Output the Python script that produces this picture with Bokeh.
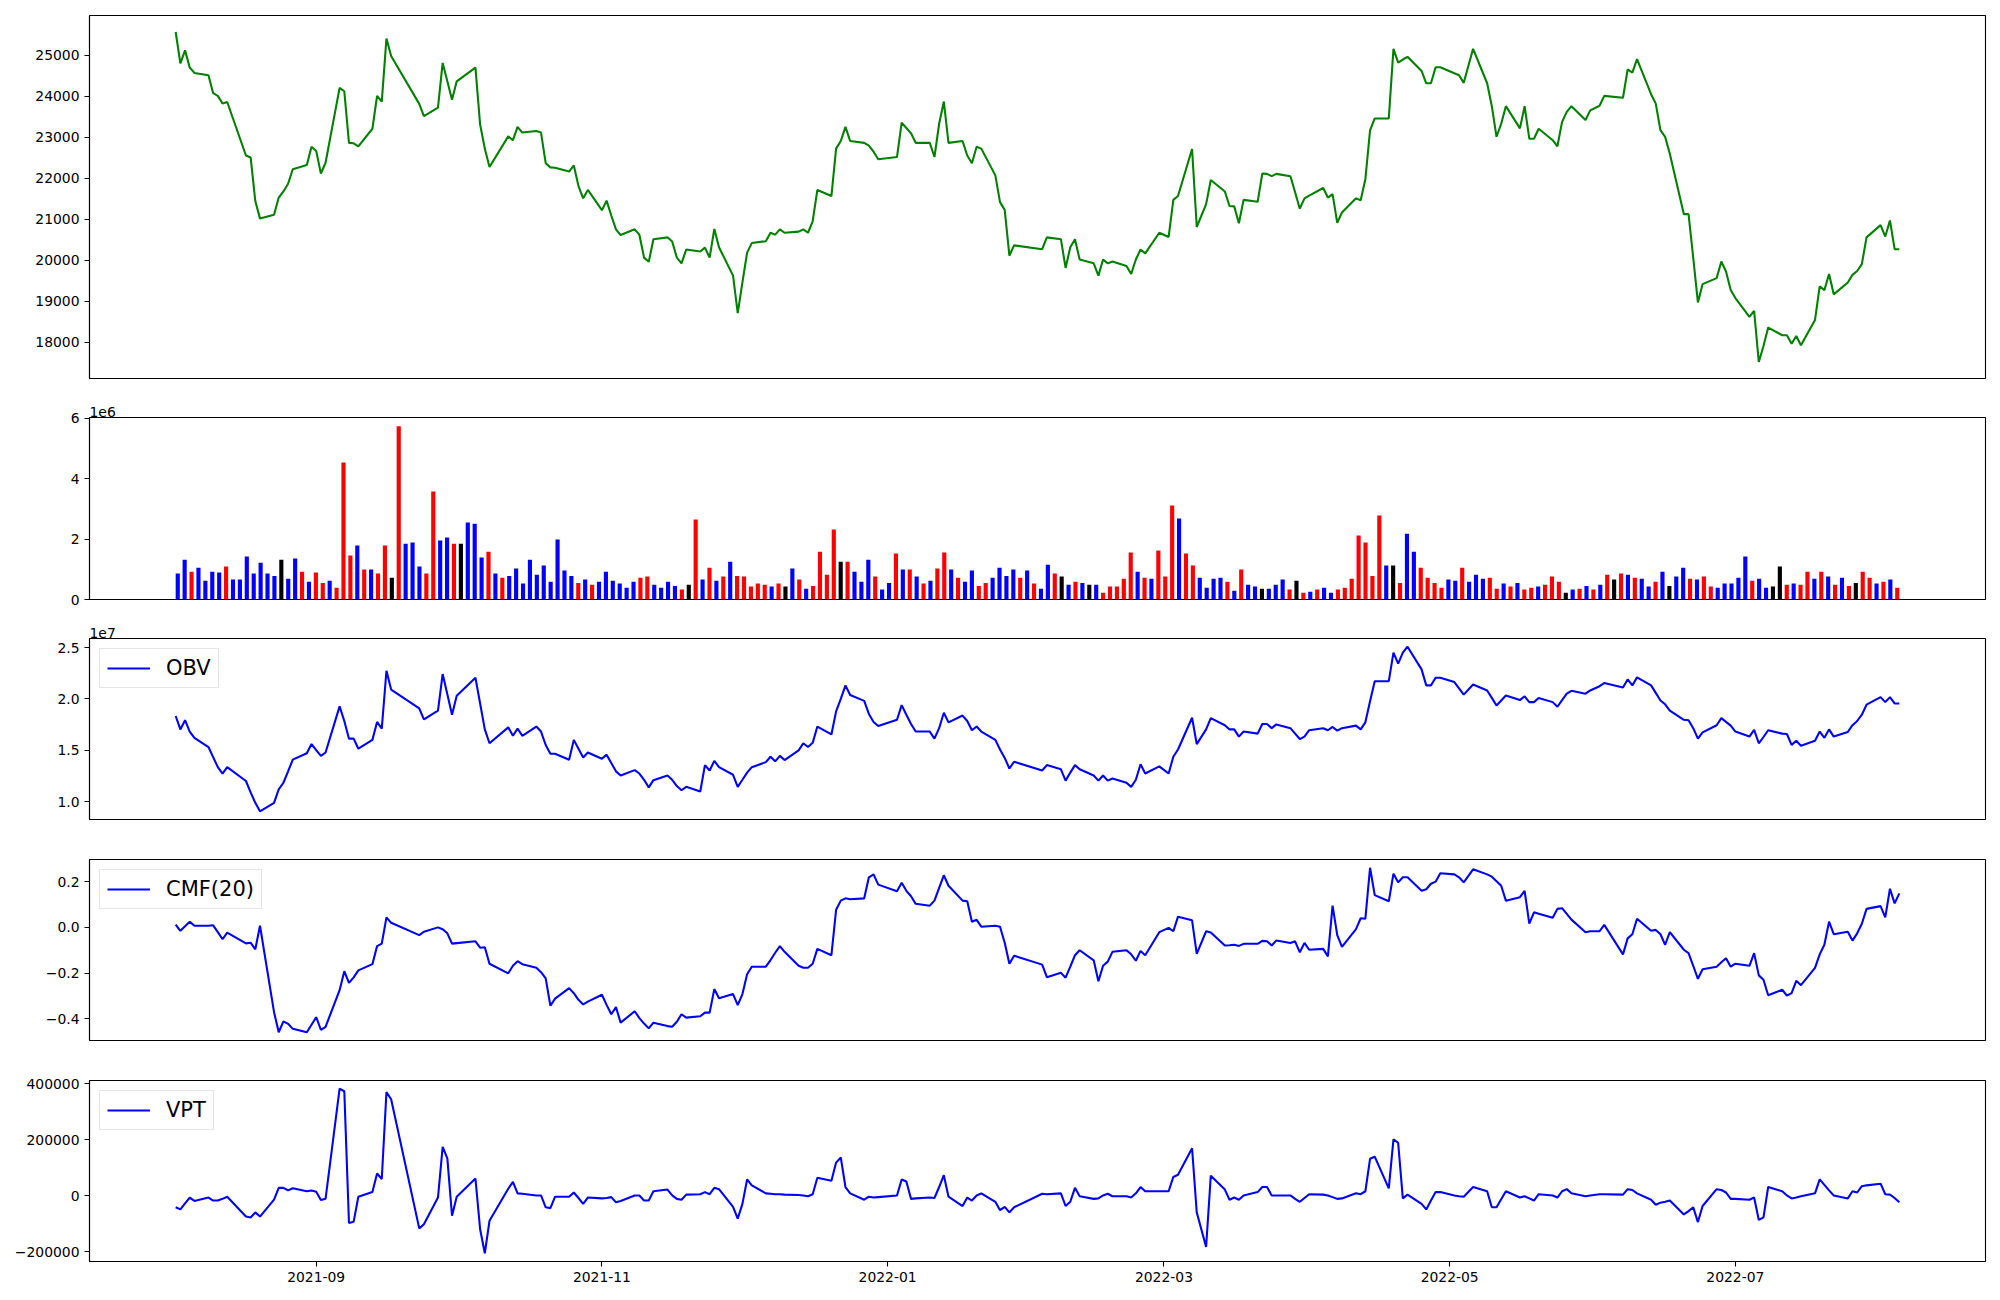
import pandas as pd
from bokeh.plotting import figure
from bokeh.layouts import column
from bokeh.models import (ColumnDataSource, Range1d, FixedTicker, Legend, LegendItem, Title,
                          DatetimeTickFormatter, CustomJSTickFormatter)
from bokeh.embed import file_html
from bokeh.resources import INLINE

# ---------------- data ----------------
krx_holidays = ["2021-08-16", "2021-09-20", "2021-09-21", "2021-09-22", "2021-10-04", "2021-10-11",
                "2021-12-31", "2022-01-31", "2022-02-01", "2022-02-02", "2022-03-01", "2022-03-09",
                "2022-05-05", "2022-06-01", "2022-06-06"]
dates = pd.bdate_range("2021-08-02", "2022-08-05")
dates = dates[~dates.isin(pd.to_datetime(krx_holidays))]

close = [25567, 24802, 25119, 24700, 24569, 24513, 24075, 24010, 23823, 23860,
         22555, 22508, 21445, 21016, 21109, 21529, 21678, 21865, 22219, 22322,
         22769, 22667, 22116, 22378, 24205, 24122, 22863, 22853, 22779, 23208,
         24010, 23870, 25409, 24980, 23814, 23515, 23721, 24812, 24364, 23916,
         24364, 24700, 23310, 22723, 22275, 23021, 22928, 23254, 23114, 23152,
         23114, 22368, 22266, 22256, 22163, 22312, 21809, 21510, 21715, 21221,
         21454, 21091, 20755, 20615, 20755, 20624, 20065, 19962, 20512, 20559,
         20456, 20065, 19925, 20261, 20214, 20307, 20065, 20764, 20317, 19626,
         18712, 19459, 20186, 20419, 20466, 20671, 20624, 20755, 20671, 20699,
         20755, 20671, 20951, 21715, 21566, 22723, 22909, 23254, 22909, 22863,
         22797, 22648, 22462, 22518, 23357, 23226, 23096, 22863, 22863, 22518,
         23329, 23870, 22863, 22909, 22555, 22368, 22769, 22723, 22070, 21417,
         21230, 20111, 20363, 20270, 20559, 20512, 19813, 20317, 20512, 20018,
         19925, 19626, 20018, 19925, 19971, 19860, 19664, 20018, 20261, 20167,
         20671, 20568, 21473, 21566, 22713, 20811, 21370, 21958, 21678, 21324,
         21314, 20904, 21473, 21426, 22116, 22107, 22051, 22107, 22051, 21660,
         21258, 21510, 21576, 21762, 21529, 21613, 20913, 21165, 21510, 21464,
         21977, 23170, 23459, 23459, 25157, 24821, 24896, 24961, 24616, 24317,
         24317, 24709, 24709, 24560, 24513, 24327, 25157, 24317, 23758, 23012,
         23329, 23758, 23217, 23758, 22965, 22965, 23208, 22928, 22779, 23375,
         23618, 23758, 23422, 23655, 23767, 24010, 23963, 24653, 24578, 24905,
         24050, 23821, 23172, 23009, 22600, 21125, 21125, 20060, 18971, 19419,
         19565, 19970, 19727, 19273, 19078, 18622, 18768, 17519, 17910, 18358,
         18172, 18172, 17966, 18153, 17929, 18545, 19365, 19272, 19664, 19169,
         19458, 19645, 19738, 19906, 20559, 20857, 20578, 20969, 20270, 20270]

volume_m = [0.86, 1.32, 0.92, 1.05, 0.62, 0.92, 0.89, 1.09, 0.66, 0.66,
            1.42, 0.86, 1.22, 0.86, 0.78, 1.32, 0.69, 1.36, 0.92, 0.59,
            0.89, 0.55, 0.62, 0.39, 4.54, 1.46, 1.79, 0.99, 0.99, 0.86,
            1.79, 0.72, 5.74, 1.85, 1.89, 1.09, 0.86, 3.58, 1.95, 2.05,
            1.85, 1.85, 2.55, 2.51, 1.39, 1.58, 0.86, 0.72, 0.78, 1.03,
            0.53, 1.32, 0.82, 1.13, 0.59, 1.99, 0.96, 0.78, 0.55, 0.66,
            0.49, 0.59, 0.92, 0.62, 0.53, 0.39, 0.59, 0.72, 0.76, 0.49,
            0.39, 0.59, 0.45, 0.33, 0.49, 2.65, 0.66, 1.05, 0.62, 0.76,
            1.25, 0.78, 0.76, 0.43, 0.53, 0.49, 0.43, 0.53, 0.43, 1.03,
            0.66, 0.36, 0.45, 1.58, 0.82, 2.32, 1.25, 1.25, 0.92, 0.59,
            1.32, 0.76, 0.33, 0.55, 1.52, 0.99, 0.99, 0.76, 0.53, 0.62,
            1.03, 1.56, 0.99, 0.72, 0.59, 0.96, 0.45, 0.55, 0.72, 1.05,
            0.78, 0.99, 0.72, 0.96, 0.53, 0.36, 1.15, 0.86, 0.76, 0.49,
            0.59, 0.55, 0.49, 0.49, 0.22, 0.43, 0.43, 0.69, 1.56, 0.92,
            0.72, 0.69, 1.62, 0.76, 3.11, 2.68, 1.52, 1.13, 0.72, 0.39,
            0.69, 0.72, 0.59, 0.29, 0.99, 0.49, 0.43, 0.36, 0.36, 0.49,
            0.66, 0.33, 0.62, 0.22, 0.26, 0.33, 0.39, 0.22, 0.33, 0.39,
            0.69, 2.12, 1.89, 0.78, 2.78, 1.13, 1.13, 0.55, 2.18, 1.58,
            1.05, 0.72, 0.55, 0.39, 0.66, 0.62, 1.05, 0.59, 0.82, 0.69,
            0.72, 0.36, 0.53, 0.43, 0.55, 0.33, 0.39, 0.43, 0.49, 0.76,
            0.59, 0.22, 0.33, 0.36, 0.45, 0.33, 0.49, 0.82, 0.66, 0.86,
            0.82, 0.72, 0.69, 0.43, 0.59, 0.92, 0.45, 0.76, 1.05, 0.69,
            0.66, 0.76, 0.43, 0.39, 0.53, 0.53, 0.72, 1.42, 0.62, 0.69,
            0.39, 0.43, 1.09, 0.49, 0.53, 0.49, 0.92, 0.69, 0.92, 0.76,
            0.49, 0.72, 0.45, 0.55, 0.92, 0.72, 0.53, 0.59, 0.66, 0.39]

# candle direction of each day: r = up (red), b = down (blue), k = unchanged (black)
bar_dir = ("bbrbbbbrbb" "bbbbbkbbrb" "rrbrrrbrbr" "rkrbbbrrbb" "rkbbbrbrbb"
           "bbbbbbbbrb" "rbbbbbbrrb" "bbbrkrbrbr" "brrrrrbrkb" "rbrrrrkrbb"
           "brbbrbrbrb" "rrbrbbrrbb" "bbrbrbbrkb" "rbkbrrrrrb" "rbrrrbrrbb"
           "bbrbrbbkbb" "brkrbrbbrr" "rrrrrbkrbb" "rrrrbbrbbb" "rrbrbrrbrr"
           "rkbrbrbrkr" "brbbrbkbbr" "brrbbbbbrb" "bkkrbrrbrb" "rbrkrrbrbr")

obv_e7 = [1.834, 1.703, 1.793, 1.682, 1.621, 1.531, 1.433, 1.335, 1.273, 1.335,
          1.200, 1.089, 0.987, 0.905, 0.987, 1.118, 1.183, 1.294, 1.408, 1.470,
          1.560, 1.502, 1.445, 1.478, 1.928, 1.785, 1.613, 1.613, 1.515, 1.601,
          1.776, 1.711, 2.275, 2.091, 1.907, 1.801, 1.887, 2.243, 2.046, 1.846,
          2.030, 2.206, 1.956, 1.703, 1.568, 1.723, 1.641, 1.711, 1.641, 1.731,
          1.682, 1.551, 1.466, 1.466, 1.408, 1.601, 1.515, 1.429, 1.478, 1.417,
          1.457, 1.376, 1.294, 1.253, 1.306, 1.273, 1.212, 1.138, 1.208, 1.253,
          1.212, 1.151, 1.110, 1.143, 1.098, 1.355, 1.302, 1.396, 1.335, 1.261,
          1.143, 1.212, 1.282, 1.335, 1.384, 1.437, 1.392, 1.445, 1.404, 1.498,
          1.568, 1.531, 1.572, 1.731, 1.654, 1.879, 2.001, 2.132, 2.038, 1.981,
          1.854, 1.776, 1.736, 1.797, 1.940, 1.846, 1.756, 1.682, 1.682, 1.613,
          1.715, 1.866, 1.772, 1.838, 1.785, 1.695, 1.731, 1.682, 1.601, 1.507,
          1.425, 1.322, 1.388, 1.302, 1.355, 1.314, 1.204, 1.282, 1.355, 1.314,
          1.253, 1.204, 1.253, 1.204, 1.224, 1.183, 1.143, 1.212, 1.363, 1.273,
          1.343, 1.273, 1.437, 1.507, 1.817, 1.560, 1.703, 1.813, 1.744, 1.703,
          1.703, 1.633, 1.682, 1.662, 1.756, 1.756, 1.715, 1.752, 1.715, 1.662,
          1.609, 1.633, 1.695, 1.715, 1.695, 1.727, 1.691, 1.715, 1.740, 1.703,
          1.772, 1.977, 2.173, 2.173, 2.451, 2.345, 2.451, 2.509, 2.288, 2.132,
          2.132, 2.206, 2.206, 2.165, 2.104, 2.042, 2.140, 2.083, 2.010, 1.936,
          1.985, 2.034, 1.989, 2.026, 1.969, 1.969, 2.010, 1.969, 1.924, 1.989,
          2.051, 2.079, 2.051, 2.083, 2.124, 2.155, 2.112, 2.190, 2.132, 2.210,
          2.132, 2.059, 1.985, 1.948, 1.887, 1.797, 1.793, 1.715, 1.613, 1.674,
          1.744, 1.813, 1.776, 1.740, 1.682, 1.633, 1.699, 1.568, 1.629, 1.695,
          1.662, 1.658, 1.552, 1.592, 1.543, 1.592, 1.682, 1.621, 1.703, 1.633,
          1.678, 1.744, 1.785, 1.846, 1.944, 2.018, 1.969, 2.018, 1.956, 1.956]

cmf20 = [0.012, -0.015, 0.005, 0.025, 0.007, 0.007, 0.009, -0.021, -0.052, -0.023,
         -0.070, -0.067, -0.096, 0.007, -0.371, -0.459, -0.411, -0.422, -0.444, -0.459,
         -0.426, -0.393, -0.448, -0.435, -0.275, -0.192, -0.243, -0.219, -0.188, -0.161,
         -0.082, -0.071, 0.044, 0.020, -0.034, -0.019, 0.000, -0.008, -0.026, -0.071,
         -0.069, -0.061, -0.089, -0.087, -0.159, -0.201, -0.168, -0.148, -0.161, -0.177,
         -0.196, -0.223, -0.343, -0.312, -0.266, -0.288, -0.317, -0.337, -0.325, -0.295,
         -0.339, -0.380, -0.349, -0.417, -0.367, -0.397, -0.421, -0.442, -0.417, -0.432,
         -0.435, -0.413, -0.380, -0.395, -0.389, -0.373, -0.373, -0.270, -0.310, -0.292,
         -0.340, -0.292, -0.205, -0.172, -0.172, -0.143, -0.111, -0.082, -0.107, -0.168,
         -0.177, -0.177, -0.159, -0.094, -0.122, 0.077, 0.117, 0.127, 0.123, 0.127,
         0.219, 0.232, 0.187, 0.158, 0.195, 0.160, 0.136, 0.103, 0.095, 0.117,
         0.173, 0.228, 0.182, 0.117, 0.114, 0.025, 0.033, 0.003, 0.007, 0.003,
         -0.067, -0.159, -0.124, -0.163, -0.218, -0.199, -0.220, -0.172, -0.122, -0.100,
         -0.144, -0.236, -0.168, -0.150, -0.107, -0.100, -0.118, -0.146, -0.103, -0.122,
         -0.021, -0.002, -0.017, 0.047, 0.031, -0.116, -0.017, -0.022, -0.079, -0.078,
         -0.076, -0.081, -0.072, -0.072, -0.059, -0.061, -0.079, -0.057, -0.068, -0.061,
         -0.109, -0.068, -0.098, -0.094, -0.127, 0.095, -0.034, -0.085, -0.008, 0.040,
         0.038, 0.261, 0.141, 0.114, 0.235, 0.197, 0.219, 0.219, 0.160, 0.167,
         0.191, 0.200, 0.237, 0.232, 0.219, 0.197, 0.254, 0.232, 0.222, 0.202,
         0.182, 0.117, 0.132, 0.160, 0.016, 0.066, 0.060, 0.042, 0.081, 0.084,
         0.059, 0.034, -0.021, -0.017, -0.017, 0.011, -0.118, -0.048, -0.030, 0.038,
         -0.015, -0.011, -0.030, -0.076, -0.021, -0.098, -0.113, -0.168, -0.225, -0.183,
         -0.172, -0.153, -0.135, -0.172, -0.159, -0.168, -0.113, -0.210, -0.229, -0.297,
         -0.273, -0.299, -0.288, -0.234, -0.253, -0.177, -0.118, -0.076, 0.025, -0.030,
         -0.019, -0.058, -0.026, 0.016, 0.081, 0.093, 0.044, 0.169, 0.105, 0.149]

vpt = [-41700, -49200, -28000, -6900, -19000, -6900, -17500, -17500, -11500, -3900,
       -74900, -77900, -59800, -74900, -14500, 27800, 27800, 18700, 26200, 15700,
       18700, 14100, -16000, -11500, 382300, 373300, -97500, -93000, -3900, 12700,
       79000, 59400, 370200, 344600, -117100, -102000, -6900, 174100, 133400, -71900,
       -3900, 60900, -120100, -206100, -90000, 24700, 48900, 8200, 6700, 700,
       700, -41700, -44700, -3900, -3900, 11200, -8400, -29600, -6900, -9900,
       -8400, -5400, -23500, -19000, 700, 700, -17500, -17500, 15700, 21700,
       700, -11500, -14500, 3600, 5100, 12700, 5100, 27800, 23200, -40200,
       -82400, -29600, 57900, 36800, 8200, 6700, 5100, 5100, 3600, 2100,
       700, -2300, 5100, 63900, 53300, 118200, 136300, 30800, 8200, -14500,
       -3900, -6900, -5400, 700, 57900, 50300, -11500, -9900, -6900, -8400,
       30800, 73000, -3900, -37100, -6900, -17500, 700, 8200, -22000, -52100,
       -40200, -59800, -41700, 6700, 5100, 8200, -37100, -22000, 27800, -2300,
       -11500, -9900, 700, 6700, -2300, -2300, -6900, 8200, 30800, 15700,
       15700, 15700, 66900, 74500, 169500, -59800, -183500, 71500, 21700, -14500,
       -6900, -14500, 700, 12700, 30800, 30800, 700, 700, 700, -11500,
       -22000, -8400, 5100, 3600, 700, -5400, -11500, -9900, 8200, 5100,
       15700, 131800, 139300, 26200, 201200, 189200, -9900, 3600, -29600, -49200,
       -17500, 12700, 12700, 700, -2300, -3900, 30800, 15700, -41700, -41700,
       -13000, 15700, -6900, -2300, -9900, -17500, 5100, 700, -6900, 15700,
       23200, 8200, -2300, 700, 5100, 5100, 3600, 23200, 20200, 8200,
       -14500, -32600, -25100, -22000, -17500, -67300, -55300, -41700, -94500, -37100,
       23200, 20200, 11200, -11500, -11500, -14500, -6900, -86900, -77900, 30800,
       15700, 700, -9900, -6900, -2300, 8200, 57900, 38300, 18700, 700,
       -9900, 15700, 11200, 33800, 36800, 42800, 5100, 3600, -8400, -23500]

price_ticks = [18000, 19000, 20000, 21000, 22000, 23000, 24000, 25000]
volume_ticks = [0, 2e6, 4e6, 6e6]
obv_ticks = [1.0e7, 1.5e7, 2.0e7, 2.5e7]
cmf_ticks = [-0.4, -0.2, 0.0, 0.2]
vpt_ticks = [-200000, 0, 200000, 400000]
date_ticks = ["2021-09-01", "2021-11-01", "2022-01-01", "2022-03-01", "2022-05-01", "2022-07-01"]

assert len(dates) == len(close) == len(volume_m) == len(bar_dir) == len(obv_e7) == len(cmf20) == len(vpt) == 250

volume = [v * 1e6 for v in volume_m]
obv = [v * 1e7 for v in obv_e7]
color_map = {"r": "red", "b": "blue", "k": "black"}
bar_colors = [color_map[c] for c in bar_dir]

src = ColumnDataSource(dict(date=dates, close=close, obv=obv, cmf=cmf20, vpt=vpt))
vsrc = ColumnDataSource(dict(i=list(range(len(volume))), vol=volume, color=bar_colors))

# ---------------- styling helpers ----------------
FONT = "DejaVu Sans"
W = 1990
LEFT = 89
LW = 2.08
span = dates[-1] - dates[0]
x_range = Range1d(dates[0] - 0.05 * span, dates[-1] + 0.05 * span)


def padded(vals):
    lo, hi = min(vals), max(vals)
    pad = 0.05 * (hi - lo)
    return Range1d(lo - pad, hi + pad)


def make_fig(height, top, bottom, x_rng, y_rng, datetime_axis=False, show_x=False):
    p = figure(width=W, height=height, x_range=x_rng, y_range=y_rng,
               x_axis_type="datetime" if datetime_axis else "linear",
               x_axis_location="below" if show_x else None,
               output_backend="svg", toolbar_location=None,
               min_border_left=LEFT, min_border_right=5, min_border_top=top, min_border_bottom=bottom)
    p.xgrid.visible = False
    p.ygrid.visible = False
    p.outline_line_color = "black"
    p.outline_line_width = 1.1
    p.background_fill_color = "white"
    p.border_fill_color = "white"
    for ax in list(p.yaxis) + list(p.xaxis):
        ax.major_label_text_font = FONT
        ax.major_label_text_font_size = "13.9px"
        ax.major_label_text_color = "black"
        ax.major_tick_in = 0
        ax.major_tick_out = 5
        ax.minor_tick_in = 0
        ax.minor_tick_out = 0
        ax.major_tick_line_color = "black"
        ax.major_tick_line_width = 1.1
        ax.axis_line_color = "black"
        ax.axis_line_width = 1.1
        ax.major_label_standoff = 5
    return p


def add_legend(p, r, label):
    lg = Legend(items=[LegendItem(label=label, renderers=[r])], location="top_left")
    lg.label_text_font = FONT
    lg.label_text_font_size = "21px"
    lg.label_text_color = "black"
    lg.glyph_width = 43
    lg.glyph_height = 22
    lg.label_height = 22
    lg.label_standoff = 16
    lg.padding = 7
    lg.margin = 10
    lg.spacing = 0
    lg.border_line_color = "#cccccc"
    lg.border_line_width = 1
    lg.background_fill_color = "white"
    lg.background_fill_alpha = 0.8
    p.add_layout(lg)


def offset_title(p, text):
    p.add_layout(Title(text=text, align="left", offset=0, standoff=2,
                       text_font=FONT, text_font_size="13.9px", text_font_style="normal",
                       text_color="black"), "above")


# ---------------- price ----------------
p1 = make_fig(395, 15, 17, x_range, padded(close), datetime_axis=True)
p1.line("date", "close", source=src, line_color="green", line_width=LW)
p1.yaxis.ticker = FixedTicker(ticks=price_ticks)
p1.yaxis.formatter = CustomJSTickFormatter(code="return tick.toFixed(0);")

# ---------------- volume ----------------
n = len(volume)
bar_w = 0.6
vx = Range1d(-bar_w / 2 - 0.05 * (n - 1 + bar_w), n - 1 + bar_w / 2 + 0.05 * (n - 1 + bar_w))
p2 = make_fig(223, 22, 19, vx, Range1d(0, max(volume) * 1.05))
p2.vbar(x="i", top="vol", width=bar_w, source=vsrc, fill_color="color", line_color=None)
p2.yaxis.ticker = FixedTicker(ticks=volume_ticks)
p2.yaxis.formatter = CustomJSTickFormatter(code="return (tick/1e6).toFixed(0);")
offset_title(p2, "1e6")

# ---------------- OBV ----------------
p3 = make_fig(220, 20, 19, x_range, padded(obv), datetime_axis=True)
r3 = p3.line("date", "obv", source=src, line_color="blue", line_width=LW)
p3.yaxis.ticker = FixedTicker(ticks=obv_ticks)
p3.yaxis.formatter = CustomJSTickFormatter(code="return (tick/1e7).toFixed(1);")
offset_title(p3, "1e7")
add_legend(p3, r3, "OBV")

# ---------------- CMF ----------------
p4 = make_fig(221, 21, 19, x_range, padded(cmf20), datetime_axis=True)
r4 = p4.line("date", "cmf", source=src, line_color="blue", line_width=LW)
p4.yaxis.ticker = FixedTicker(ticks=cmf_ticks)
p4.yaxis.formatter = CustomJSTickFormatter(
    code="return (tick < -1e-9 ? '\u2212' : '') + Math.abs(tick).toFixed(1);")
add_legend(p4, r4, "CMF(20)")

# ---------------- VPT ----------------
p5 = make_fig(232, 21, 30, x_range, padded(vpt), datetime_axis=True, show_x=True)
r5 = p5.line("date", "vpt", source=src, line_color="blue", line_width=LW)
p5.yaxis.ticker = FixedTicker(ticks=vpt_ticks)
p5.yaxis.formatter = CustomJSTickFormatter(
    code="return (tick < 0 ? '\u2212' : '') + Math.abs(tick).toFixed(0);")
p5.xaxis.ticker = FixedTicker(ticks=[pd.Timestamp(d).value / 1e6 for d in date_ticks])
p5.xaxis.formatter = DatetimeTickFormatter(days="%Y-%m", months="%Y-%m", years="%Y-%m")
add_legend(p5, r5, "VPT")

layout = column(p1, p2, p3, p4, p5, spacing=0)
open("out.html", "w").write(file_html(layout, INLINE))
